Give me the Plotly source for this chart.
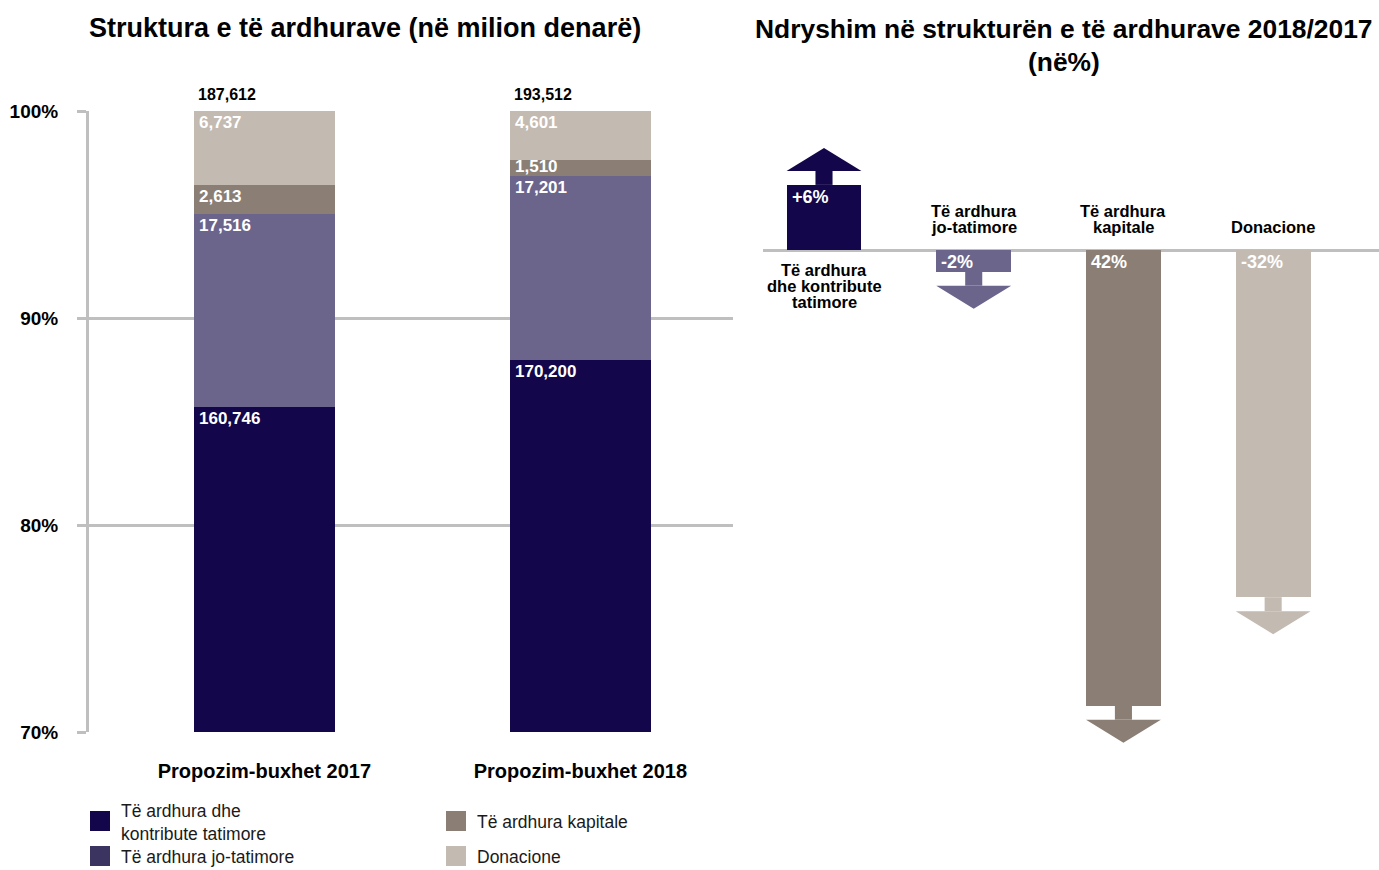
import plotly.graph_objects as go

# ---------------- data ----------------
years = ["Propozim-buxhet 2017", "Propozim-buxhet 2018"]
series_names = ["Të ardhura dhe<br>kontribute tatimore", "Të ardhura jo-tatimore",
                "Të ardhura kapitale", "Donacione"]
tax = [160746, 170200]
nontax = [17516, 17201]
capital = [2613, 1510]
donations = [6737, 4601]
totals = [187612, 193512]

change_categories = ["Të ardhura<br>dhe kontribute<br>tatimore", "Të ardhura<br>jo-tatimore",
                     "Të ardhura<br>kapitale", "Donacione"]
change_values = [6, -2, -42, -32]
change_text = ["+6%", "-2%", "42%", "-32%"]

y_tickvals = [70, 80, 90, 100]
y_ticktext = ["70%", "80%", "90%", "100%"]

bar_colors = ["#13064a", "#6b658c", "#8b7f75", "#c3bab2"]
legend_colors = ["#13064a", "#3b3360", "#8b7f75", "#c3bab2"]

FONT = "Liberation Sans, Arial, sans-serif"
W, H = 1379, 870
GRID = "#bfbfbf"

fig = go.Figure()

# ---------------- left: stacked 100% bars ----------------
series = [tax, nontax, capital, donations]
shares = [[v / t * 100 for v, t in zip(s, totals)] for s in series]
bw = 0.446
xpos = [0, 1]
y_px_per_unit = (732 - 111) / 30.0
for name, sh, col in zip(series_names, shares, bar_colors):
    fig.add_trace(go.Bar(x=xpos, y=sh, width=bw, marker=dict(color=col, line=dict(width=0)),
                         name=name, showlegend=False, xaxis="x", yaxis="y",
                         hoverinfo="skip"))

annotations = []
for i in range(2):
    cum = 0
    tops = []
    for sh in shares:
        cum += sh[i]
        tops.append(cum)
    for s, sh, top in zip(series, shares, tops):
        seg_px = sh[i] * y_px_per_unit
        shift = -min(11.5, seg_px / 2 - 2)
        annotations.append(dict(x=xpos[i] - bw / 2, y=top, xref="x", yref="y",
                                text=f"{s[i]:,}", showarrow=False, xanchor="left",
                                yanchor="middle", xshift=3, yshift=shift,
                                font=dict(family=FONT, size=17, color="white", weight="bold")))
    annotations.append(dict(x=xpos[i] - bw / 2, y=100, xref="x", yref="y",
                            text=f"{totals[i]:,}", showarrow=False, xanchor="left",
                            yanchor="middle", xshift=2, yshift=17,
                            font=dict(family=FONT, size=16, color="black", weight="bold")))

# ---------------- right: change arrows ----------------
cx = list(range(len(change_values)))
fig.add_trace(go.Bar(x=cx, y=change_values, width=0.5,
                     marker=dict(color=bar_colors, line=dict(width=0)),
                     showlegend=False, xaxis="x2", yaxis="y2", hoverinfo="skip"))

px_per_unit = 10.85
stem_len = 14 / px_per_unit
head_len = 23 / px_per_unit
half_w = 0.25
stem_half = 0.057
shapes = []
for i, v in enumerate(change_values):
    s = 1 if v > 0 else -1
    col = bar_colors[i]
    y1 = v + s * stem_len
    shapes.append(dict(type="rect", xref="x2", yref="y2", x0=i - stem_half, x1=i + stem_half,
                       y0=v, y1=y1, fillcolor=col, line=dict(width=0), layer="above"))
    y2 = y1 + s * head_len
    shapes.append(dict(type="path", xref="x2", yref="y2",
                       path=f"M {i - half_w},{y1} L {i + half_w},{y1} L {i},{y2} Z",
                       fillcolor=col, line=dict(width=0), layer="above"))
    annotations.append(dict(x=i - half_w, y=max(0, v), xref="x2", yref="y2", text=change_text[i],
                            showarrow=False, xanchor="left", yanchor="middle", xshift=3,
                            yshift=-12,
                            font=dict(family=FONT, size=18, color="white", weight="bold")))
    lines = change_categories[i].split("<br>")
    n = len(lines)
    for k, ln in enumerate(lines):
        if v > 0:
            shift = -(20 + 16 * k)
        else:
            shift = 23 + 16 * (n - 1 - k)
        annotations.append(dict(x=i, y=0, xref="x2", yref="y2", text=ln,
                                showarrow=False, xanchor="center", yanchor="middle", yshift=shift,
                                font=dict(family=FONT, size=16.5, color="black", weight="bold")))

# ---------------- titles ----------------
annotations.append(dict(x=365 / W, y=1 - 28 / H, xref="paper", yref="paper",
                        text="Struktura e të ardhurave (në milion denarë)", showarrow=False,
                        xanchor="center", yanchor="middle",
                        font=dict(family=FONT, size=27, color="black", weight="bold")))
annotations.append(dict(x=1064 / W, y=1 - 29 / H, xref="paper", yref="paper",
                        text="Ndryshim në strukturën e të ardhurave 2018/2017", showarrow=False,
                        xanchor="center", yanchor="middle",
                        font=dict(family=FONT, size=26.4, color="black", weight="bold")))
annotations.append(dict(x=1064 / W, y=1 - 62 / H, xref="paper", yref="paper",
                        text="(në%)", showarrow=False, xanchor="center", yanchor="middle",
                        font=dict(family=FONT, size=26.4, color="black", weight="bold")))

# ---------------- custom legend ----------------
legend_slots = [(90, 821), (90, 856), (446, 821), (446, 856)]
for (lx, ly), name, col in zip(legend_slots, series_names, legend_colors):
    shapes.append(dict(type="rect", xref="paper", yref="paper", x0=lx / W, x1=(lx + 20) / W,
                       y0=1 - (ly + 10) / H, y1=1 - (ly - 10) / H, fillcolor=col,
                       line=dict(width=0)))
    annotations.append(dict(x=(lx + 29) / W, y=1 - (ly + 1) / H, xref="paper", yref="paper",
                            text=name, showarrow=False, xanchor="left", yanchor="middle",
                            align="left",
                            font=dict(family=FONT, size=17.5, color="#1a1a1a")))

fig.update_layout(
    width=W, height=H,
    margin=dict(l=0, r=0, t=0, b=0, autoexpand=False),
    paper_bgcolor="white", plot_bgcolor="white",
    barmode="stack", bargap=0,
    showlegend=False,
    font=dict(family=FONT),
    xaxis=dict(domain=[89 / W, 733 / W], range=[-0.555, 1.483], tickvals=xpos, ticktext=years,
               showgrid=False, zeroline=False, showline=False, ticks="",
               ticklabelstandoff=25, automargin=False,
               tickfont=dict(family=FONT, size=20, color="black", weight="bold")),
    yaxis=dict(domain=[1 - 732 / H, 1 - 111 / H], range=[70, 100], tickvals=y_tickvals,
               ticktext=y_ticktext, showgrid=True, gridcolor=GRID, gridwidth=3,
               zeroline=False, showline=True, linecolor=GRID, linewidth=3,
               ticks="outside", ticklen=9, tickcolor=GRID, tickwidth=3,
               ticklabelstandoff=15, automargin=False,
               tickfont=dict(family=FONT, size=19, color="black", weight="bold")),
    xaxis2=dict(domain=[763 / W, 1.0], range=[-0.4075, 3.707], anchor="y2",
                showgrid=False, zeroline=False, showline=False, showticklabels=False, ticks=""),
    yaxis2=dict(domain=[0, 1], range=[-620 / px_per_unit, 250 / px_per_unit], anchor="x2",
                showgrid=False, zeroline=True, zerolinecolor=GRID, zerolinewidth=3,
                showline=False, showticklabels=False, ticks=""),
    shapes=shapes,
    annotations=annotations,
)

fig.write_html("out.html", config={"displayModeBar": False},
               post_script="document.body.style.margin='0px';document.body.style.overflow='hidden';")
